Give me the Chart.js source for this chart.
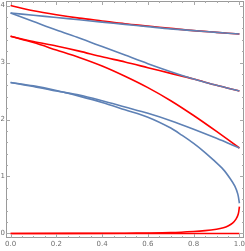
<!DOCTYPE html>
<html><head><meta charset="utf-8">
<script src="https://cdn.jsdelivr.net/npm/chart.js@4"></script>
<style>html,body{margin:0;padding:0;background:#fff;overflow:hidden}</style>
</head><body>
<canvas id="c" width="245" height="251"></canvas>
<script>
// ---- data ----
const xGrid = [0, 0.1, 0.2, 0.3, 0.4, 0.5, 0.6, 0.7, 0.8, 0.9, 1.0];
const blueTop   = [3.87, 3.83, 3.79, 3.75, 3.71, 3.67, 3.63, 3.59, 3.56, 3.53, 3.50];
const blueMid   = [3.87, 3.72, 3.57, 3.43, 3.28, 3.13, 2.98, 2.84, 2.71, 2.60, 2.50];
const blueLow   = [2.65, 2.58, 2.50, 2.43, 2.33, 2.22, 2.11, 1.98, 1.83, 1.67, 1.50];
const redTop    = [4.00, 3.91, 3.84, 3.78, 3.73, 3.68, 3.64, 3.60, 3.56, 3.53, 3.50];
const redMid    = [3.46, 3.37, 3.29, 3.20, 3.10, 3.01, 2.91, 2.81, 2.71, 2.60, 2.50];
const redSteep  = [3.46, 3.35, 3.22, 3.09, 2.94, 2.76, 2.56, 2.33, 2.07, 1.79, 1.50];
const redZero   = [0, 0, 0, 0, 0, 0, 0, 0, 0, 0, 0];
const bendBlueX = [0, 0.1, 0.2, 0.3, 0.4, 0.5, 0.6, 0.7, 0.75, 0.8, 0.85, 0.886, 0.93, 0.96, 0.98, 0.993, 1.0];
const bendBlueY = [2.65, 2.59, 2.51, 2.41, 2.30, 2.17, 2.04, 1.85, 1.72, 1.58, 1.42, 1.29, 1.12, 0.96, 0.83, 0.69, 0.53];
const bendRedX  = [0, 0.5, 0.6, 0.7, 0.8, 0.85, 0.9, 0.93, 0.95, 0.97, 0.985, 0.995, 1.0];
const bendRedY  = [0, 0.004, 0.008, 0.016, 0.035, 0.05, 0.075, 0.10, 0.13, 0.18, 0.25, 0.34, 0.47];
const xTickLabels = [0, 0.2, 0.4, 0.6, 0.8, 1.0];
const yTickLabels = [0, 1, 2, 3, 4];

const BLUE = 'rgb(94,129,181)';
const RED = 'rgb(255,0,0)';
const pts = (xs, ys) => xs.map((x, i) => ({x, y: ys[i]}));
const ds = (xs, ys, color) => ({
  data: pts(xs, ys), showLine: true, borderColor: color, backgroundColor: color,
  borderWidth: 1.6, pointRadius: 0, tension: 0.3, fill: false
});

const frame = {
  id: 'frame',
  afterDraw(chart) {
    const ctx = chart.ctx, a = chart.chartArea, x = chart.scales.x, y = chart.scales.y;
    ctx.save();
    ctx.strokeStyle = '#9a9a9a';
    ctx.lineWidth = 1;
    ctx.strokeRect(a.left + 0.5, a.top + 0.5, a.right - a.left - 1, a.bottom - a.top - 1);
    ctx.strokeStyle = '#a8a8a8';
    ctx.beginPath();
    const xStep = (xTickLabels[1] - xTickLabels[0]) / 4;
    const nx = Math.round((xTickLabels[xTickLabels.length - 1] - xTickLabels[0]) / xStep);
    for (let i = 0; i <= nx; i++) {
      const px = Math.round(x.getPixelForValue(xTickLabels[0] + i * xStep)) + 0.5;
      const L = i % 4 === 0 ? 4 : 2;
      ctx.moveTo(px, a.bottom); ctx.lineTo(px, a.bottom - L);
      ctx.moveTo(px, a.top); ctx.lineTo(px, a.top + L);
    }
    const yStep = (yTickLabels[1] - yTickLabels[0]) / 5;
    const ny = Math.round((yTickLabels[yTickLabels.length - 1] - yTickLabels[0]) / yStep);
    for (let i = 0; i <= ny; i++) {
      const py = Math.round(y.getPixelForValue(yTickLabels[0] + i * yStep)) + 0.5;
      const L = i % 5 === 0 ? 4 : 2;
      ctx.moveTo(a.left, py); ctx.lineTo(a.left + L, py);
      ctx.moveTo(a.right, py); ctx.lineTo(a.right - L, py);
    }
    ctx.stroke();
    ctx.restore();
  }
};

function fixBox(s, w, h) {
  if (w != null) s.width = w;
  if (h != null) s.height = h;
  s.paddingLeft = 0; s.paddingRight = 0; s.paddingTop = 0; s.paddingBottom = 0;
}

new Chart(document.getElementById('c'), {
  type: 'scatter',
  data: {
    datasets: [
      ds(xGrid, blueTop, BLUE),
      ds(xGrid, blueMid, BLUE),
      ds(xGrid, blueLow, BLUE),
      ds(bendBlueX, bendBlueY, BLUE),
      ds(xGrid, redTop, RED),
      ds(xGrid, redMid, RED),
      ds(xGrid, redSteep, RED),
      ds(xGrid, redZero, RED),
      ds(bendRedX, bendRedY, RED)
    ]
  },
  options: {
    responsive: false,
    animation: false,
    layout: {padding: {top: 1, right: 1, left: 0, bottom: 0}},
    plugins: {legend: {display: false}, tooltip: {enabled: false}},
    scales: {
      x: {
        type: 'linear', min: -0.02, max: 1.02,
        grid: {display: false, drawTicks: false}, border: {display: false},
        afterBuildTicks: s => { s.ticks = xTickLabels.map(v => ({value: v})); },
        afterFit: s => fixBox(s, null, 13),
        ticks: {font: {family: 'DejaVu Sans', size: 7}, color: '#6f6f6f', padding: 2,
                maxRotation: 0, autoSkip: false, callback: v => Number(v).toFixed(1)}
      },
      y: {
        type: 'linear', min: -0.08, max: 4.08,
        grid: {display: false, drawTicks: false}, border: {display: false},
        afterBuildTicks: s => { s.ticks = yTickLabels.map(v => ({value: v})); },
        afterFit: s => fixBox(s, 6, null),
        ticks: {font: {family: 'DejaVu Sans', size: 7}, color: '#6f6f6f', padding: 1,
                autoSkip: false, callback: v => String(v)}
      }
    }
  },
  plugins: [frame]
});
</script>
</body></html>
